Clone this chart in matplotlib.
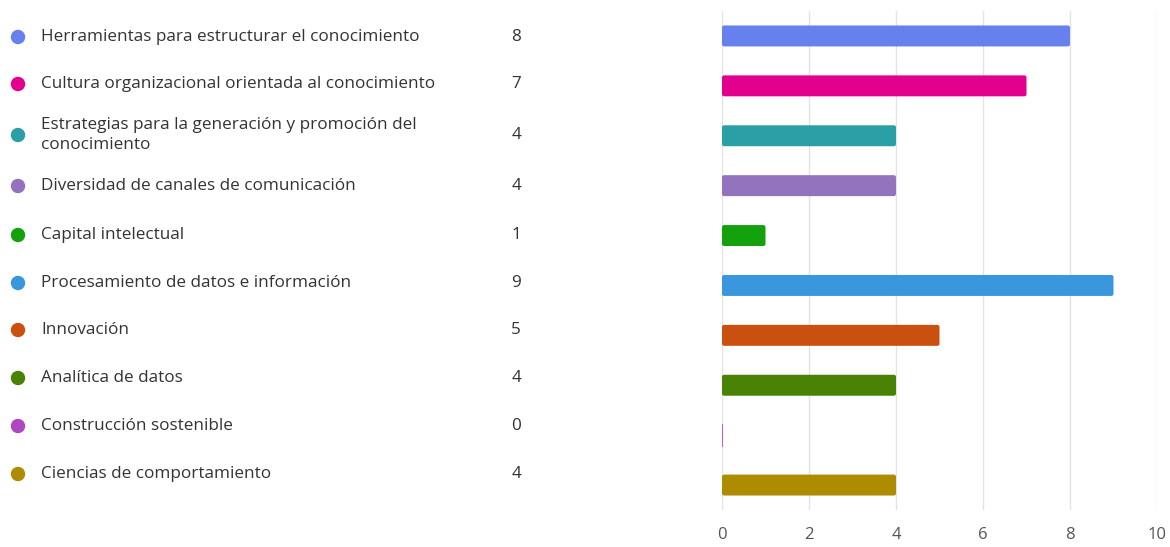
import matplotlib
matplotlib.use("Agg")
import matplotlib.pyplot as plt
from matplotlib.patches import Circle, FancyBboxPatch

categories = [
    "Herramientas para estructurar el conocimiento",
    "Cultura organizacional orientada al conocimiento",
    "Estrategias para la generación y promoción del\nconocimiento",
    "Diversidad de canales de comunicación",
    "Capital intelectual",
    "Procesamiento de datos e información",
    "Innovación",
    "Analítica de datos",
    "Construcción sostenible",
    "Ciencias de comportamiento",
]
values = [8, 7, 4, 4, 1, 9, 5, 4, 0, 4]
colors = ["#6680EE", "#E3008C", "#2B9FA6", "#9373BD", "#13A10E",
          "#3A96DD", "#CA5010", "#498205", "#B146C2", "#AE8C00"]
xticks = [0, 2, 4, 6, 8, 10]

plt.rcParams['font.family'] = ['Open Sans', 'DejaVu Sans']

W, H = 1170, 547
fig = plt.figure(figsize=(W / 100, H / 100), dpi=100)

# bar chart axes
ax = fig.add_axes([722 / W, 1 - 510 / H, (1157 - 722) / W, (510 - 11) / H])
y = list(range(len(categories)))
bh = 0.42
for yi, v, c in zip(y, values, colors):
    if v > 0:
        p = FancyBboxPatch((0, yi - bh / 2), v, bh,
                           boxstyle="round,pad=0,rounding_size=0.05",
                           mutation_aspect=0.85,
                           facecolor=c, edgecolor="none", zorder=3)
        ax.add_patch(p)
    else:
        ax.plot([0, 0], [yi - bh / 2, yi + bh / 2], color=c, lw=1.2, zorder=3)
ax.set_xlim(0, 10)
ax.set_ylim(len(categories) - 0.5, -0.5)
ax.set_xticks(xticks)
ax.set_xticklabels([str(t) for t in xticks], fontsize=12, color="#555555")
ax.set_yticks([])
ax.tick_params(axis='x', length=0, pad=12)
ax.grid(axis='x', color="#E3E3E3", lw=1, zorder=0)
for s in ax.spines.values():
    s.set_visible(False)

# legend axes in pixel coordinates
lax = fig.add_axes([0, 0, 1, 1])
lax.set_xlim(0, W)
lax.set_ylim(H, 0)
lax.axis('off')
legend_y = [37, 84, 135, 186, 235, 283, 330, 378, 426, 474]
for ly, cat, v, c in zip(legend_y, categories, values, colors):
    lax.add_patch(Circle((18, ly), 6.5, color=c))
    lax.text(41, ly, cat, fontsize=12.3, color="#333333", va='center', ha='left',
             linespacing=1.35)
    lax.text(521, ly, str(v), fontsize=12.3, color="#333333", va='center', ha='right')

fig.savefig("out.png", dpi=100, facecolor="white")
